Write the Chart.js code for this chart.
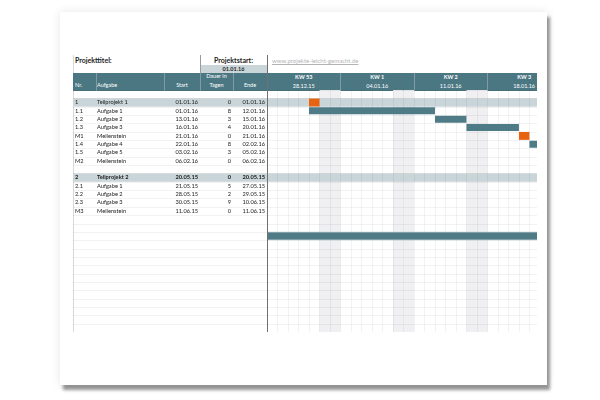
<!DOCTYPE html>
<html><head><meta charset="utf-8">
<script src="https://cdn.jsdelivr.net/npm/chart.js@4.4.1/dist/chart.umd.min.js"></script>
<style>
html,body{margin:0;padding:0;width:600px;height:400px;background:#fff;overflow:hidden;font-family:Lato,"Liberation Sans",sans-serif;}
.a{position:absolute;white-space:nowrap;}
#paper{left:60px;top:12px;width:487px;height:373px;background:#fff;box-shadow:3px 5px 3px rgba(0,0,0,0.40),0 0 9px rgba(0,0,0,0.10);}
#band{left:73px;top:73px;width:464px;height:18px;background:#4b7783;}
.hd{color:#fff;font-size:5.5px;line-height:7px;}
.cell{font-size:5.7px;color:#222;}
#wrap{left:73px;top:90px;width:464px;height:242px;overflow:hidden;}
#kwclip{left:267px;top:73px;width:270px;height:18px;overflow:hidden;}
</style></head>
<body>
<div id="paper" class="a"></div>
<div class="a" style="left:73px;top:55px;width:1px;height:277px;background:#d8d8d8"></div>
<div class="a" style="left:75px;top:56px;font-size:7px;font-weight:bold;color:#222">Projekttitel:</div>
<div class="a" style="left:200px;top:56px;width:67px;text-align:center;font-size:7px;font-weight:bold;color:#222">Projektstart:</div>
<div class="a" style="left:200px;top:65px;width:67px;height:8px;background:#c9d5d8;text-align:center;font-size:5.5px;line-height:8px;font-weight:bold;color:#222">01.01.16</div>
<div class="a" style="left:200px;top:55px;width:1px;height:18px;background:#9a9a9a"></div>
<div class="a" style="left:272px;top:57px;font-size:6px;color:#b4b4b4;text-decoration:underline">www.projekte-leicht-gemacht.de</div>
<div id="band" class="a"></div>
<div class="a hd" style="left:75px;top:82px">Nr.</div>
<div class="a hd" style="left:97px;top:82px">Aufgabe</div>
<div class="a hd" style="left:164px;top:82px;width:36px;text-align:center">Start</div>
<div class="a hd" style="left:200px;top:73px;width:33px;text-align:center">Dauer in</div>
<div class="a hd" style="left:200px;top:82px;width:33px;text-align:center">Tagen</div>
<div class="a hd" style="left:233px;top:82px;width:34px;text-align:center">Ende</div>
<div class="a" style="left:96px;top:73px;width:1px;height:18px;background:#7f9ca4"></div>
<div class="a" style="left:164px;top:73px;width:1px;height:18px;background:#7f9ca4"></div>
<div class="a" style="left:200px;top:73px;width:1px;height:18px;background:#7f9ca4"></div>
<div class="a" style="left:233px;top:73px;width:1px;height:18px;background:#7f9ca4"></div>
<div id="kwclip" class="a"></div>
<div id="wrap" class="a"><canvas id="c" width="464" height="242"></canvas></div>
<div id="cells"></div>
<div class="a" style="left:266.5px;top:55px;width:1.2px;height:277px;background:#707070"></div>
<script>
// ---- data ----
const nrs       = ['1','1.1','1.2','1.3','M1','1.4','1.5','M2','','2','2.1','2.2','2.3','M3'];
const tasks     = ['Teilprojekt 1','Aufgabe 1','Aufgabe 2','Aufgabe 3','Meilenstein','Aufgabe 4','Aufgabe 5','Meilenstein','','Teilprojekt 2','Aufgabe 1','Aufgabe 2','Aufgabe 3','Meilenstein'];
const starts    = ['01.01.16','01.01.16','13.01.16','16.01.16','21.01.16','22.01.16','03.02.16','06.02.16','','20.05.15','21.05.15','28.05.15','30.05.15','11.06.15'];
const durations = ['0','8','3','4','0','8','3','0','','0','5','2','9','0'];
const ends      = ['01.01.16','12.01.16','15.01.16','20.01.16','21.01.16','02.02.16','05.02.16','06.02.16','','20.05.15','27.05.15','29.05.15','10.06.15','11.06.15'];
const groupRows = ['1','2'];
const weekLabels = ['KW 53','KW 1','KW 2','KW 3'];
const weekDates  = ['28.12.15','04.01.16','11.01.16','18.01.16'];
const viewStart = '28.12.15';
const viewDays  = 25.72;
const timelineBar = {row: 17, start: '28.12.15', end: '31.01.16'};
const rowCount = 29;
const firstTaskRow = 1;

// ---- helpers ----
function parseD(s){const [d,m,y]=s.split('.').map(Number);return Date.UTC(2000+y,m-1,d);}
const t0 = parseD(viewStart);
function idx(s){return (parseD(s)-t0)/86400000;}
const rowIds = Array.from({length: rowCount}, (_, i) => 'r' + i);

const taskBars = [], milestones = [];
nrs.forEach((n, i) => {
  if (!starts[i]) return;
  const y = rowIds[firstTaskRow + i];
  if (Number(durations[i]) === 0) milestones.push({x: [idx(starts[i]), idx(starts[i]) + 1], y});
  else taskBars.push({x: [idx(starts[i]), idx(ends[i]) + 1], y});
});
const timeline = [{x: [idx(timelineBar.start), idx(timelineBar.end) + 1], y: rowIds[timelineBar.row]}];

const bgPlugin = {
  id: 'bg',
  beforeDatasetsDraw(chart) {
    const ctx = chart.ctx, xs = chart.scales.x, ys = chart.scales.y, ca = chart.chartArea;
    const rh = (ys.getPixelForValue(1) - ys.getPixelForValue(0));
    ctx.save();
    for (let d = 0; d < Math.ceil(viewDays); d++) {
      const dow = new Date(t0 + d * 86400000).getUTCDay();
      if (dow === 0 || dow === 6) {
        ctx.fillStyle = '#f0f0f2';
        const x1 = xs.getPixelForValue(d), x2 = xs.getPixelForValue(d + 1);
        ctx.fillRect(x1, ca.top, x2 - x1, ca.bottom - ca.top);
      }
    }
    nrs.forEach((n, i) => {
      if (groupRows.includes(n)) {
        const yc = ys.getPixelForValue(firstTaskRow + i);
        ctx.fillStyle = '#c9d5d8';
        ctx.fillRect(0, yc - rh / 2, ca.right, rh);
      }
    });
    ctx.strokeStyle = 'rgba(0,0,0,0.05)';
    ctx.lineWidth = 1;
    for (let d = 1; d < Math.ceil(viewDays); d++) {
      const x = Math.round(xs.getPixelForValue(d)) + 0.5;
      ctx.beginPath(); ctx.moveTo(x, ca.top); ctx.lineTo(x, ca.bottom); ctx.stroke();
    }
    for (let r = 0; r <= rowCount; r++) {
      const y = Math.round(ys.getPixelForValue(0) - rh / 2 + r * rh) + 0.5;
      ctx.beginPath(); ctx.moveTo(0, y); ctx.lineTo(ca.right, y); ctx.stroke();
    }
    ctx.restore();
  }
};

const chart = new Chart(document.getElementById('c'), {
  type: 'bar',
  data: {
    labels: rowIds,
    datasets: [
      {label: 'Zeitleiste', data: timeline, backgroundColor: '#4f7b87', borderColor: '#b5c5c9', borderWidth: 1, borderSkipped: false, barPercentage: 1, categoryPercentage: 1, grouped: false},
      {label: 'Aufgaben', data: taskBars, backgroundColor: '#4f7b87', barPercentage: 0.84, categoryPercentage: 1, grouped: false},
      {label: 'Meilensteine', data: milestones, backgroundColor: '#e8630f', barPercentage: 0.95, categoryPercentage: 1, grouped: false}
    ]
  },
  options: {
    indexAxis: 'y', responsive: false, animation: false, devicePixelRatio: 1,
    layout: {padding: {left: 194, right: 0, top: 0, bottom: 0}},
    plugins: {legend: {display: false}, tooltip: {enabled: false}},
    scales: {
      x: {type: 'linear', min: 0, max: viewDays, display: false},
      y: {type: 'category', display: false, offset: true}
    }
  },
  plugins: [bgPlugin]
});

// ---- text overlays positioned via the chart's scales ----
const xs = chart.scales.x, ys = chart.scales.y;
const wrapL = 73, wrapT = 90;
const rh = ys.getPixelForValue(1) - ys.getPixelForValue(0);
const cells = document.getElementById('cells');
function add(txt, left, top, width, align, bold){
  const d = document.createElement('div');
  d.className = 'a cell';
  d.textContent = txt;
  d.style.left = left + 'px'; d.style.top = top + 'px';
  d.style.lineHeight = rh + 'px'; d.style.height = rh + 'px';
  if (width) { d.style.width = width + 'px'; d.style.textAlign = align; }
  if (bold) d.style.fontWeight = 'bold';
  cells.appendChild(d);
}
nrs.forEach((n, i) => {
  const top = wrapT + ys.getPixelForValue(firstTaskRow + i) - rh / 2;
  const bold = (n === '2');
  add(n, 75, top, 0, '', bold);
  add(tasks[i], 97, top, 0, '', bold);
  add(starts[i], 164, top, 34, 'right', bold);
  add(durations[i], 200, top, 31, 'right', bold);
  add(ends[i], 233, top, 32, 'right', bold);
});
const kw = document.getElementById('kwclip');
weekLabels.forEach((w, i) => {
  const c = xs.getPixelForValue(idx(weekDates[i]) + 3.5) + wrapL - 267;
  const a = document.createElement('div');
  a.className = 'a hd'; a.style.left = (c - 30) + 'px'; a.style.width = '60px'; a.style.textAlign = 'center';
  a.style.top = '1px'; a.style.fontWeight = 'bold'; a.textContent = w; kw.appendChild(a);
  const b = document.createElement('div');
  b.className = 'a hd'; b.style.left = (c - 30) + 'px'; b.style.width = '60px'; b.style.textAlign = 'center';
  b.style.top = '10px'; b.textContent = weekDates[i]; kw.appendChild(b);
  if (i > 0) {
    const l = document.createElement('div');
    l.className = 'a'; l.style.left = Math.round(xs.getPixelForValue(idx(weekDates[i])) + wrapL - 267) + 'px';
    l.style.top = '0px'; l.style.width = '1px'; l.style.height = '18px'; l.style.background = '#7f9ca4';
    kw.appendChild(l);
  }
});
</script>
</body></html>
